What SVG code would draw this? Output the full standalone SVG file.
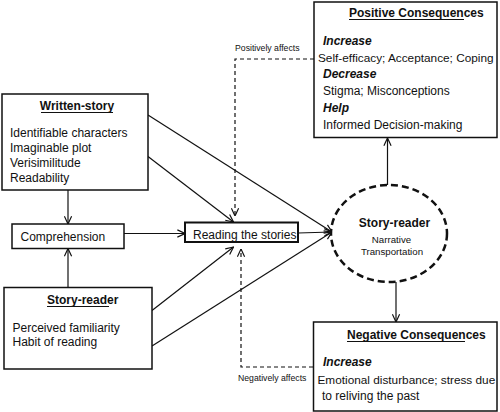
<svg xmlns="http://www.w3.org/2000/svg" width="500" height="412" viewBox="0 0 500 412">
<defs>
<style>
text{font-family:"Liberation Sans",Arial,sans-serif;font-size:12px;fill:#111}
.b{font-weight:bold}
.bi{font-weight:bold;font-style:italic}
.s{font-size:8.7px}
.m{font-size:9.7px}
.l{font-size:11.8px}
.box{fill:#fff;stroke:#111;stroke-width:1.5}
.ul{stroke:#111;stroke-width:1.1}
.c{fill:none;stroke:#111;stroke-width:1.2}
.d{fill:none;stroke:#111;stroke-width:1.2;stroke-dasharray:4 3}
</style>
<marker id="ah" viewBox="0 0 10 10" refX="9.5" refY="5" markerWidth="9" markerHeight="9" markerUnits="userSpaceOnUse" orient="auto">
<path d="M1,1 L9.5,5 L1,9" fill="none" stroke="#111" stroke-width="1.3"/>
</marker>
</defs>
<g id="connectors">
<line class="c" x1="68" y1="190" x2="68" y2="224" marker-end="url(#ah)"/>
<line class="c" x1="68" y1="287" x2="68" y2="248.5" marker-end="url(#ah)"/>
<line class="c" x1="124" y1="233.5" x2="185" y2="233.5" marker-end="url(#ah)"/>
<line class="c" x1="148" y1="115" x2="332" y2="232" marker-end="url(#ah)"/>
<line class="c" x1="148" y1="156.5" x2="233.5" y2="222" marker-end="url(#ah)"/>
<line class="c" x1="298" y1="233" x2="332" y2="232" marker-end="url(#ah)"/>
<line class="c" x1="152" y1="310.5" x2="233.5" y2="247" marker-end="url(#ah)"/>
<line class="c" x1="152" y1="346" x2="332" y2="232" marker-end="url(#ah)"/>
<line class="c" x1="387.5" y1="185" x2="387.5" y2="138" marker-end="url(#ah)"/>
<line class="c" x1="396" y1="282" x2="396" y2="322" marker-end="url(#ah)"/>
<path class="d" d="M314,59 H235 V216" marker-end="url(#ah)"/>
<path class="d" d="M313,367 H241 V249" marker-end="url(#ah)"/>
<text class="s" x="235" y="51">Positively affects</text>
<text class="s" x="238" y="381">Negatively affects</text>
</g>
<g id="positive">
<rect class="box" x="314" y="2" width="183" height="135.5"/>
<text class="b" x="349" y="17">Positive Consequences</text>
<line class="ul" x1="349" y1="19.5" x2="464" y2="19.5"/>
<text class="bi" x="323" y="45">Increase</text>
<text class="l" x="318" y="61.5">Self-efficacy; Acceptance; Coping</text>
<text class="bi" x="323" y="78">Decrease</text>
<text x="323" y="95">Stigma; Misconceptions</text>
<text class="bi" x="323" y="111.5">Help</text>
<text x="323" y="129">Informed Decision-making</text>
</g>
<g id="written">
<rect class="box" x="2" y="94" width="146" height="96"/>
<text class="b" x="77" y="110" text-anchor="middle">Written-story</text>
<line class="ul" x1="41" y1="112.5" x2="113" y2="112.5"/>
<text x="10" y="137">Identifiable characters</text>
<text x="10" y="152">Imaginable plot</text>
<text x="10" y="167">Verisimilitude</text>
<text x="10" y="182">Readability</text>
</g>
<g id="comprehension">
<rect class="box" x="12" y="224" width="112" height="24.5"/>
<text x="20.5" y="240.5">Comprehension</text>
</g>
<g id="storyreader-box">
<rect class="box" x="4" y="287.5" width="148" height="81.5"/>
<text class="b" x="47" y="304">Story-reader</text>
<line class="ul" x1="47" y1="306.5" x2="109" y2="306.5"/>
<text x="12.5" y="332">Perceived familiarity</text>
<text x="12.5" y="346">Habit of reading</text>
</g>
<g id="reading">
<rect x="185" y="222.5" width="113" height="19.5" fill="#fff" stroke="#111" stroke-width="2"/>
<text x="193" y="238.5">Reading the stories</text>
</g>
<g id="transport">
<ellipse cx="389" cy="233.5" rx="58" ry="48.5" fill="#fff" stroke="#111" stroke-width="2.5" stroke-dasharray="7 4"/>
<text class="b" x="394.5" y="227" text-anchor="middle">Story-reader</text>
<text class="m" x="391.5" y="242.5" text-anchor="middle">Narrative</text>
<text class="m" x="392" y="254.5" text-anchor="middle">Transportation</text>
</g>
<g id="negative">
<rect class="box" x="313.5" y="322" width="183.5" height="89"/>
<text class="b" x="347" y="339">Negative Consequences</text>
<line class="ul" x1="347" y1="341.5" x2="465" y2="341.5"/>
<text class="bi" x="323" y="366">Increase</text>
<text class="l" x="317.5" y="383.5">Emotional disturbance; stress due</text>
<text x="322" y="400">to reliving the past</text>
</g>
</svg>
